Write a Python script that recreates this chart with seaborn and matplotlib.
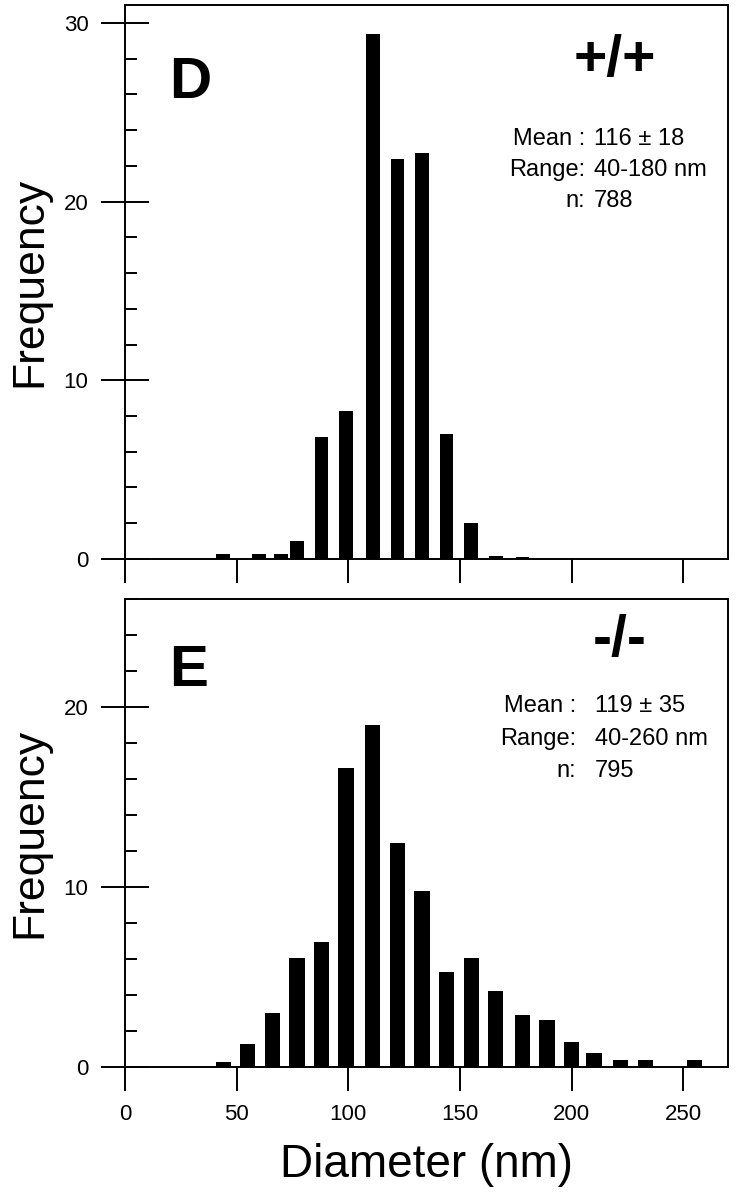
import numpy as np
import pandas as pd
import matplotlib
matplotlib.use("Agg")
import matplotlib.pyplot as plt
from matplotlib.ticker import MultipleLocator
import seaborn as sns

# panel D (+/+): bin centre (nm) and frequency (%)
wt_diam = [44, 60, 70, 77, 88, 99, 111, 122, 133, 144, 155, 166, 178]
wt_freq = [0.3, 0.3, 0.3, 1.0, 6.8, 8.3, 29.4, 22.4, 22.7, 7.0, 2.0, 0.15, 0.1]

# panel E (-/-)
ko_diam = [44, 55, 66, 77, 88, 99, 111, 122, 133, 144, 155, 166, 178, 189, 200,
           210, 222, 233, 255]
ko_freq = [0.3, 1.3, 3.0, 6.05, 6.95, 16.6, 19.0, 12.45, 9.8, 5.3, 6.05, 4.2,
           2.9, 2.6, 1.4, 0.8, 0.4, 0.4, 0.4]

x_ticks = [0, 50, 100, 150, 200, 250]
wt_stats = ["Mean :", "Range:", "n:"]
wt_values = ["116 \u00b1 18", "40-180 nm", "788"]
ko_values = ["119 \u00b1 35", "40-260 nm", "795"]

sns.set_theme(style="white")
plt.rcParams["font.family"] = ["Liberation Sans", "DejaVu Sans"]
plt.rcParams["axes.edgecolor"] = "black"
plt.rcParams["axes.linewidth"] = 1.4
plt.rcParams["text.color"] = "black"
plt.rcParams["axes.labelcolor"] = "black"
plt.rcParams["xtick.color"] = "black"
plt.rcParams["ytick.color"] = "black"


def draw_panel(ax, diam, freq, bar_w, ymax, letter, geno, values,
               letter_y, geno_x, geno_y, lab_x, val_x, rows_y):
    df = pd.DataFrame({"Diameter": diam, "Frequency": freq})
    step = np.min(np.diff(np.unique(diam)))
    sns.barplot(data=df, x="Diameter", y="Frequency", native_scale=True,
                color="black", saturation=1, width=bar_w / step,
                errorbar=None, linewidth=0, ax=ax)
    ax.set_xlim(0, 270)
    ax.set_ylim(0, ymax)
    ax.set_xticks(x_ticks)
    ax.yaxis.set_major_locator(MultipleLocator(10))
    ax.yaxis.set_minor_locator(MultipleLocator(2))
    ax.tick_params(axis="y", which="major", left=True, direction="inout",
                   length=34.6, width=1.4, pad=9, labelsize=16, colors="black")
    ax.tick_params(axis="y", which="minor", left=True, direction="in",
                   length=8.6, width=1.4, color="black")
    ax.tick_params(axis="x", which="major", bottom=True, direction="out",
                   length=17.3, width=1.4, pad=9, labelsize=16, colors="black")
    for s in ax.spines.values():
        s.set_visible(True)
        s.set_color("black")
        s.set_linewidth(1.4)
    ax.set_ylabel("Frequency", fontsize=32, color="black")
    ax.yaxis.set_label_coords(-0.124, 0.5)

    ax.text(0.073, letter_y, letter, transform=ax.transAxes, fontsize=42,
            fontweight="bold", ha="left", va="baseline", color="black")
    ax.text(geno_x, geno_y, geno, transform=ax.transAxes, fontsize=41,
            fontweight="bold", ha="center", va="baseline", color="black")
    for lab, val, yy in zip(wt_stats, values, rows_y):
        ax.text(lab_x, yy, lab, transform=ax.transAxes, fontsize=17,
                ha="right", va="baseline", color="black")
        ax.text(val_x, yy, val, transform=ax.transAxes, fontsize=17,
                ha="left", va="baseline", color="black")


fig = plt.figure(figsize=(7.36, 11.99), dpi=100)
ax_top = fig.add_axes([0.1698, 0.5338, 0.8193, 0.4620])
ax_bot = fig.add_axes([0.1698, 0.1101, 0.8193, 0.3903])

draw_panel(ax_top, wt_diam, wt_freq, 6.2, 31, "D", "+/+", wt_values,
           0.832, 0.813, 0.872, 0.763, 0.778, [0.747, 0.691, 0.635])
draw_panel(ax_bot, ko_diam, ko_freq, 6.8, 26, "E", "-/-", ko_values,
           0.814, 0.821, 0.878, 0.748, 0.779, [0.759, 0.688, 0.620])

ax_top.set_xlabel("")
ax_top.tick_params(axis="x", labelbottom=False)
ax_bot.set_xlabel("Diameter (nm)", fontsize=33, color="black")
ax_bot.xaxis.set_label_coords(0.5, -0.162)

fig.savefig("out.png", dpi=100)
